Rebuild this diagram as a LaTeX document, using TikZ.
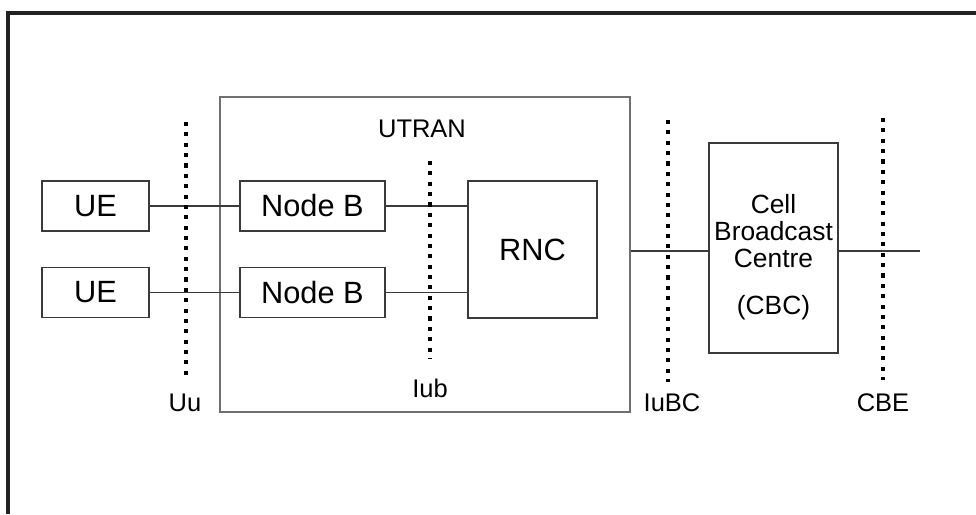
\documentclass[tikz,border=0pt]{standalone}
\usepackage{fontspec}
\setmainfont{Liberation Sans}
\usetikzlibrary{positioning}

\definecolor{boxgray}{HTML}{3A3A3A}
\definecolor{utrangray}{HTML}{707070}
\definecolor{framegray}{HTML}{222222}

\begin{document}
\begin{tikzpicture}[x=0.02cm,y=-0.02cm,on grid,node distance=1.73cm,
    box/.style={draw=boxgray,line width=1pt,minimum height=1cm,font=\fontsize{17.5}{21}\selectfont},
    wire/.style={draw=boxgray,line width=0.9pt},
    iface/.style={line width=1.9pt,dash pattern=on 2.3pt off 3.6pt},
    lbl/.style={font=\fontsize{14.5}{17}\selectfont,inner sep=0pt}]
  \useasboundingbox (0,0) rectangle (976,514);
  % outer border
  \draw[framegray,line width=1.8pt] (8,514) -- (8,13) -- (976,13);

  \node[draw=utrangray,line width=1.3pt,minimum width=8.2cm,minimum height=6.3cm] (utran) at (425,254.5) {};
  \node[lbl] (utranlbl) at (422,129) {UTRAN};

  \node[box,minimum width=2.14cm] (ue1) at (95.5,206) {UE};
  \node[box,minimum width=2.14cm] (ue2) [below=of ue1] {UE};
  \node[box,minimum width=2.9cm] (nodeb1) [right=4.34cm of ue1] {Node B};
  \node[box,minimum width=2.9cm] (nodeb2) [below=of nodeb1] {Node B};
  \node[box,minimum width=2.58cm,minimum height=2.74cm] (rnc) at (532.5,249.5) {RNC};
  \node[box,minimum width=2.58cm,minimum height=4.2cm] (cbc) at (773.5,248) {};
  \node[font=\fontsize{15}{15.6}\selectfont,align=center,inner sep=0pt] (cbctxt) at (773.5,257)
    {Cell\\Broadcast\\Centre\\[11pt](CBC)};
  \coordinate (cbeend) at (920,251);

  \path[wire]
    (ue1) -- (nodeb1)
    (ue2) -- (nodeb2)
    (nodeb1.east) -- (nodeb1.east -| rnc.west)
    (nodeb2.east) -- (nodeb2.east -| rnc.west)
    (utran.east |- cbeend) -- (cbc.west |- cbeend)
    (cbc.east |- cbeend) -- (cbeend);

  % reference points
  \coordinate (uutop) at (186,122);   \coordinate (uubot) at (186,380);
  \coordinate (iubtop) at (430,161);  \coordinate (iubbot) at (430,358);
  \coordinate (iubctop) at (668,120); \coordinate (iubcbot) at (668,382);
  \coordinate (cbetop) at (883,118);  \coordinate (cbebot) at (883,380);
  \draw[iface] (uutop) -- (uubot);
  \draw[iface] (iubtop) -- (iubbot);
  \draw[iface] (iubctop) -- (iubcbot);
  \draw[iface] (cbetop) -- (cbebot);
  \node[lbl] (uu) at (185,403) {Uu};
  \node[lbl] (iub) at (430,388) {Iub};
  \node[lbl] (iubc) at (672,403) {IuBC};
  \node[lbl] (cbe) at (883,403) {CBE};
\end{tikzpicture}
\end{document}
